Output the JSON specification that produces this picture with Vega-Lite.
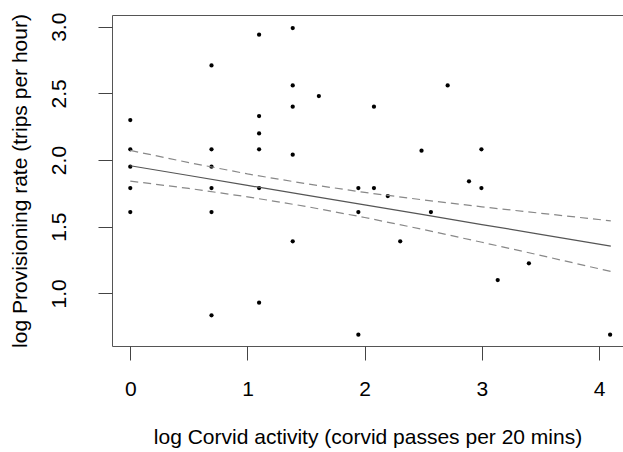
{
  "$schema": "https://vega.github.io/schema/vega-lite/v6.json",
  "width": 511,
  "height": 331,
  "autosize": {"type": "none"},
  "padding": {"left": 112, "top": 15, "right": 0, "bottom": 106},
  "background": "white",
  "config": {
    "view": {"stroke": "#555", "strokeWidth": 1},
    "font": "Liberation Sans",
    "axis": {
      "domain": false,
      "grid": false,
      "tickColor": "#444",
      "tickSize": 14,
      "tickWidth": 1,
      "labelFont": "Liberation Sans",
      "labelFontSize": 21,
      "labelColor": "#000",
      "titleFont": "Liberation Sans",
      "titleFontSize": 21,
      "titleFontWeight": "normal",
      "titleColor": "#000"
    }
  },
  "datasets": {
    "pts": [
      {"x": 0, "y": 2.30}, {"x": 0, "y": 2.08}, {"x": 0, "y": 1.95}, {"x": 0, "y": 1.79}, {"x": 0, "y": 1.61},
      {"x": 0.693, "y": 2.71}, {"x": 0.693, "y": 2.08}, {"x": 0.693, "y": 1.95}, {"x": 0.693, "y": 1.79}, {"x": 0.693, "y": 1.61}, {"x": 0.693, "y": 0.835},
      {"x": 1.099, "y": 2.94}, {"x": 1.099, "y": 2.33}, {"x": 1.099, "y": 2.20}, {"x": 1.099, "y": 2.08}, {"x": 1.099, "y": 1.79}, {"x": 1.099, "y": 0.93},
      {"x": 1.386, "y": 2.99}, {"x": 1.386, "y": 2.56}, {"x": 1.386, "y": 2.40}, {"x": 1.386, "y": 2.04}, {"x": 1.386, "y": 1.39},
      {"x": 1.609, "y": 2.48},
      {"x": 1.946, "y": 1.79}, {"x": 1.946, "y": 1.61}, {"x": 1.946, "y": 0.69},
      {"x": 2.079, "y": 2.40}, {"x": 2.079, "y": 1.79},
      {"x": 2.197, "y": 1.73},
      {"x": 2.303, "y": 1.39},
      {"x": 2.485, "y": 2.07},
      {"x": 2.565, "y": 1.61},
      {"x": 2.708, "y": 2.56},
      {"x": 2.890, "y": 1.84},
      {"x": 2.996, "y": 2.08}, {"x": 2.996, "y": 1.79},
      {"x": 3.135, "y": 1.10},
      {"x": 3.401, "y": 1.225},
      {"x": 4.094, "y": 0.69}
    ],
    "fit": [
      {"x": 0, "y": 1.957}, {"x": 0.5, "y": 1.884}, {"x": 1, "y": 1.810}, {"x": 1.5, "y": 1.737}, {"x": 2, "y": 1.663},
      {"x": 2.5, "y": 1.590}, {"x": 3, "y": 1.516}, {"x": 3.5, "y": 1.443}, {"x": 4.1, "y": 1.354}
    ],
    "band": [
      {"x": 0, "y": 1.842, "b": "lower"}, {"x": 0.5, "y": 1.787, "b": "lower"}, {"x": 1, "y": 1.724, "b": "lower"},
      {"x": 1.5, "y": 1.652, "b": "lower"}, {"x": 2, "y": 1.569, "b": "lower"}, {"x": 2.5, "y": 1.479, "b": "lower"},
      {"x": 3, "y": 1.383, "b": "lower"}, {"x": 3.5, "y": 1.285, "b": "lower"}, {"x": 4.1, "y": 1.164, "b": "lower"},
      {"x": 0, "y": 2.072, "b": "upper"}, {"x": 0.5, "y": 1.981, "b": "upper"}, {"x": 1, "y": 1.896, "b": "upper"},
      {"x": 1.5, "y": 1.822, "b": "upper"}, {"x": 2, "y": 1.757, "b": "upper"}, {"x": 2.5, "y": 1.701, "b": "upper"},
      {"x": 3, "y": 1.649, "b": "upper"}, {"x": 3.5, "y": 1.601, "b": "upper"}, {"x": 4.1, "y": 1.544, "b": "upper"}
    ]
  },
  "layer": [
    {
      "data": {"name": "pts"},
      "mark": {"type": "circle", "color": "#000", "size": 18, "opacity": 1},
      "encoding": {
        "x": {
          "field": "x", "type": "quantitative",
          "scale": {"domain": [-0.156, 4.204], "nice": false, "zero": false},
          "axis": {"values": [0, 1, 2, 3, 4], "format": "d", "labelPadding": 18, "titlePadding": 27,
                   "title": "log Corvid activity (corvid passes per 20 mins)"}
        },
        "y": {
          "field": "y", "type": "quantitative",
          "scale": {"domain": [0.605, 3.088], "nice": false, "zero": false},
          "axis": {"values": [1, 1.5, 2, 2.5, 3], "format": ".1f", "labelAngle": -90, "labelAlign": "center",
                   "labelBaseline": "bottom", "labelPadding": 29, "titlePadding": 18,
                   "title": "log Provisioning rate (trips per hour)"}
        }
      }
    },
    {
      "data": {"name": "band"},
      "mark": {"type": "line", "color": "#888", "strokeDash": [8, 5], "strokeWidth": 1.2},
      "encoding": {
        "x": {"field": "x", "type": "quantitative"},
        "y": {"field": "y", "type": "quantitative"},
        "detail": {"field": "b"}
      }
    },
    {
      "data": {"name": "fit"},
      "mark": {"type": "line", "color": "#555", "strokeWidth": 1.2},
      "encoding": {
        "x": {"field": "x", "type": "quantitative"},
        "y": {"field": "y", "type": "quantitative"}
      }
    }
  ]
}
